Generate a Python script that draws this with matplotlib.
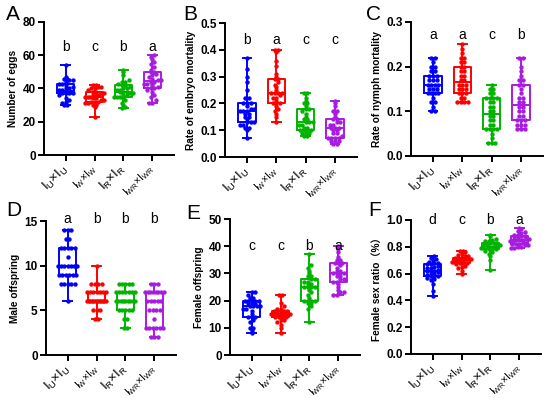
import numpy as np
import matplotlib
matplotlib.use('Agg')
import matplotlib.pyplot as plt
from matplotlib.transforms import ScaledTranslation

plt.rcParams['font.family'] = ['Liberation Sans', 'DejaVu Sans']
plt.rcParams['mathtext.fontset'] = 'custom'
plt.rcParams['mathtext.rm'] = 'Liberation Sans'

groups = ['IU', 'IW', 'IR', 'IWR']
tick_labels = [r'$\mathregular{I_U{\times}I_U}$', r'$\mathregular{I_W{\times}I_W}$',
               r'$\mathregular{I_R{\times}I_R}$', r'$\mathregular{I_{WR}{\times}I_{WR}}$']
tick_sizes = [9.5, 7.5, 9.5, 7.5]
colors = ['#0000ff', '#ff0000', '#00b400', '#a81ce0']

# A: number of eggs
eggs = [
    [30, 30, 31, 32, 33, 34, 36, 37, 37, 37, 37, 38, 38, 38, 38, 39, 39, 40, 40, 41, 42, 43, 43, 44, 45, 45, 46, 46, 47, 54],
    [23, 29, 30, 30, 31, 31, 32, 32, 32, 33, 33, 34, 34, 35, 35, 35, 36, 36, 36, 37, 37, 38, 38, 39, 40, 40, 41, 41, 42, 42],
    [28, 29, 30, 31, 33, 34, 35, 35, 35, 36, 36, 37, 37, 38, 38, 38, 39, 39, 40, 40, 41, 42, 42, 43, 44, 44, 45, 48, 50, 51],
    [31, 31, 33, 35, 36, 38, 39, 40, 40, 41, 42, 43, 43, 44, 44, 45, 45, 46, 47, 48, 49, 50, 50, 51, 53, 55, 56, 58, 59, 60],
]
# B: embryo mortality
embryo = [
    [.07, .10, .11, .11, .12, .12, .13, .13, .13, .14, .15, .15, .16, .16, .17, .17, .17, .18, .18, .19, .20, .20, .20, .22, .22, .25, .28, .30, .33, .37],
    [.13, .15, .16, .17, .18, .19, .20, .20, .20, .21, .22, .22, .23, .24, .24, .24, .24, .25, .26, .27, .28, .29, .29, .30, .31, .34, .36, .39, .40, .40],
    [.08, .08, .09, .09, .09, .10, .10, .10, .10, .11, .11, .12, .12, .13, .13, .13, .14, .14, .15, .16, .17, .18, .18, .19, .20, .20, .21, .22, .24, .24],
    [.05, .05, .06, .06, .06, .07, .07, .07, .07, .08, .09, .09, .10, .10, .11, .11, .11, .12, .12, .13, .13, .14, .14, .15, .16, .17, .17, .19, .20, .21],
]
# C: nymph mortality
nymph = [
    [.10, .10, .11, .12, .12, .13, .14, .14, .14, .14, .15, .15, .15, .16, .16, .16, .16, .17, .17, .17, .18, .18, .18, .19, .19, .20, .20, .21, .22, .22],
    [.12, .12, .12, .12, .13, .13, .14, .14, .14, .15, .15, .15, .16, .16, .16, .17, .17, .18, .18, .19, .19, .20, .20, .21, .21, .22, .22, .23, .24, .25],
    [.03, .03, .03, .04, .05, .06, .06, .06, .06, .07, .07, .08, .08, .09, .09, .10, .10, .11, .11, .12, .12, .13, .13, .13, .13, .14, .14, .15, .15, .16],
    [.06, .06, .06, .07, .07, .07, .08, .08, .08, .09, .09, .10, .10, .11, .11, .12, .12, .13, .13, .14, .15, .16, .16, .17, .17, .18, .19, .20, .22, .22],
]
# D: male offspring
male = [
    [6, 8, 8, 8, 8, 8, 9, 9, 9, 9, 9, 9, 10, 10, 10, 10, 10, 10, 10, 11, 12, 12, 12, 12, 12, 13, 13, 14, 14, 14],
    [4, 4, 5, 5, 5, 6, 6, 6, 6, 6, 6, 6, 6, 6, 6, 6, 6, 6, 7, 7, 7, 7, 7, 7, 7, 8, 8, 8, 8, 10],
    [3, 3, 4, 4, 5, 5, 5, 5, 5, 6, 6, 6, 6, 6, 6, 6, 6, 6, 7, 7, 7, 7, 7, 7, 7, 8, 8, 8, 8, 8],
    [2, 2, 2, 3, 3, 3, 3, 3, 3, 4, 5, 5, 5, 5, 6, 6, 6, 6, 6, 7, 7, 7, 7, 7, 7, 7, 7, 8, 8, 8],
]
# E: female offspring
female = [
    [8, 9, 10, 10, 12, 13, 14, 14, 14, 15, 16, 17, 17, 18, 18, 18, 18, 19, 19, 19, 20, 20, 20, 20, 20, 21, 21, 22, 23, 23],
    [8, 10, 11, 12, 13, 13, 14, 14, 14, 14, 15, 15, 15, 15, 15, 15, 15, 15, 15, 16, 16, 16, 16, 16, 17, 17, 18, 19, 22, 22],
    [12, 17, 18, 19, 19, 20, 20, 20, 20, 21, 22, 23, 24, 25, 25, 25, 25, 26, 26, 27, 27, 28, 28, 29, 29, 30, 31, 32, 33, 37],
    [22, 22, 23, 23, 24, 25, 26, 27, 27, 28, 28, 29, 29, 30, 30, 30, 30, 31, 31, 32, 33, 34, 34, 34, 35, 35, 36, 38, 39, 40],
]
# F: female sex ratio
ratio = [
    [.43, .47, .52, .55, .56, .57, .58, .58, .58, .59, .60, .60, .61, .62, .62, .62, .63, .64, .64, .65, .66, .67, .67, .68, .68, .69, .70, .71, .72, .73],
    [.60, .62, .64, .65, .66, .67, .68, .68, .68, .69, .69, .69, .70, .70, .70, .70, .71, .71, .71, .71, .72, .72, .72, .73, .73, .74, .75, .76, .77, .77],
    [.63, .70, .73, .75, .76, .77, .78, .78, .78, .79, .79, .79, .80, .80, .80, .80, .81, .81, .81, .82, .82, .83, .83, .83, .84, .84, .85, .86, .88, .89],
    [.79, .79, .80, .80, .81, .81, .82, .82, .82, .83, .83, .84, .84, .85, .85, .85, .85, .86, .86, .87, .87, .88, .88, .89, .89, .90, .91, .92, .93, .94],
]

panels = [
    ('A', eggs, 'Number of eggs', (0, 80), [0, 20, 40, 60, 80], '{:.0f}', ['b', 'c', 'b', 'a'], 65),
    ('B', embryo, 'Rate of embryo mortality', (0, 0.5), [0, .1, .2, .3, .4, .5], '{:.1f}', ['b', 'a', 'c', 'c'], 0.437),
    ('C', nymph, 'Rate of nymph mortality', (0, 0.3), [0, .1, .2, .3], '{:.1f}', ['a', 'a', 'c', 'b'], 0.27),
    ('D', male, 'Male offspring', (0, 15), [0, 5, 10, 15], '{:.0f}', ['a', 'b', 'b', 'b'], 15.2),
    ('E', female, 'Female offspring', (0, 50), [0, 10, 20, 30, 40, 50], '{:.0f}', ['c', 'c', 'b', 'a'], 40),
    ('F', ratio, 'Female sex ratio（%）', (0, 1.0), [0, .2, .4, .6, .8, 1.0], '{:.1f}', ['d', 'c', 'b', 'a'], 1.0),
]

W, H = 550, 398
# axes boxes in pixels: left, top, right, bottom
boxes_px = [
    (44, 22, 174, 155),
    (225, 23, 357, 157),
    (411, 22, 543, 156),
    (46, 221, 176, 355),
    (230, 219, 360, 355),
    (411, 220, 541, 354),
]
letter_px = [(6, 15), (183, 15), (366, 15), (6, 211), (186, 213), (368, 211)]


def swarm_x(vals, center, span, step=0.12, lim=0.33):
    # spread points that fall into the same height bin
    vals = np.asarray(vals, dtype=float)
    bins = np.round(vals / span).astype(int)
    xs = np.zeros_like(vals)
    for b in np.unique(bins):
        idx = np.where(bins == b)[0]
        n = len(idx)
        offs = (np.arange(n) - (n - 1) / 2) * step
        if n > 1 and offs.max() > lim:
            offs = offs * lim / offs.max()
        xs[idx] = center + offs
    return xs


fig = plt.figure(figsize=(5.5, 3.98), dpi=100)
shift = ScaledTranslation(7 / 100, 0, fig.dpi_scale_trans)

for (letter, data, ylabel, ylim, yticks, fmt, sig, sig_y), (l, t, r, b), (lx, ly) in zip(panels, boxes_px, letter_px):
    ax = fig.add_axes([l / W, 1 - b / H, (r - l) / W, (b - t) / H])
    pos = np.arange(4)
    for i, vals in enumerate(data):
        c = colors[i]
        ax.boxplot([vals], positions=[i], widths=0.6, whis=(0, 100),
                   showfliers=False, patch_artist=False,
                   boxprops=dict(color=c, lw=1.4),
                   medianprops=dict(color=c, lw=1.4),
                   whiskerprops=dict(color=c, lw=1.4),
                   capprops=dict(color=c, lw=1.4), capwidths=0.3)
        span = (ylim[1] - ylim[0]) * 0.025
        xs = swarm_x(vals, i, span)
        ax.scatter(xs, vals, s=10, color=c, zorder=3, linewidths=0)
        ax.text(i, sig_y, sig[i], ha='center', va='center', fontsize=10)
    ax.set_xlim(-0.75, 3.75)
    ax.set_ylim(*ylim)
    ax.set_yticks(yticks)
    ax.set_yticklabels([fmt.format(tk) for tk in yticks], fontsize=8.5, fontweight='bold')
    ax.set_xticks(pos)
    ax.set_xticklabels(tick_labels, rotation=45, ha='right', va='center',
                       rotation_mode='anchor')
    for lab, fs in zip(ax.get_xticklabels(), tick_sizes):
        lab.set_fontsize(fs)
        lab.set_transform(lab.get_transform() + shift)
    ax.set_ylabel(ylabel, fontsize=7.3, fontweight='bold', labelpad=3,
                  family=['Liberation Sans', 'Noto Sans CJK SC'])
    ax.spines['top'].set_visible(False)
    ax.spines['right'].set_visible(False)
    ax.spines['left'].set_linewidth(1.4)
    ax.spines['bottom'].set_linewidth(1.4)
    ax.tick_params(width=1.4, length=4, pad=2)
    ax.tick_params(axis='x', pad=5)
    fig.text(lx / W, 1 - ly / H, letter, fontsize=15, ha='left', va='center')

fig.savefig('out.png', dpi=100)
